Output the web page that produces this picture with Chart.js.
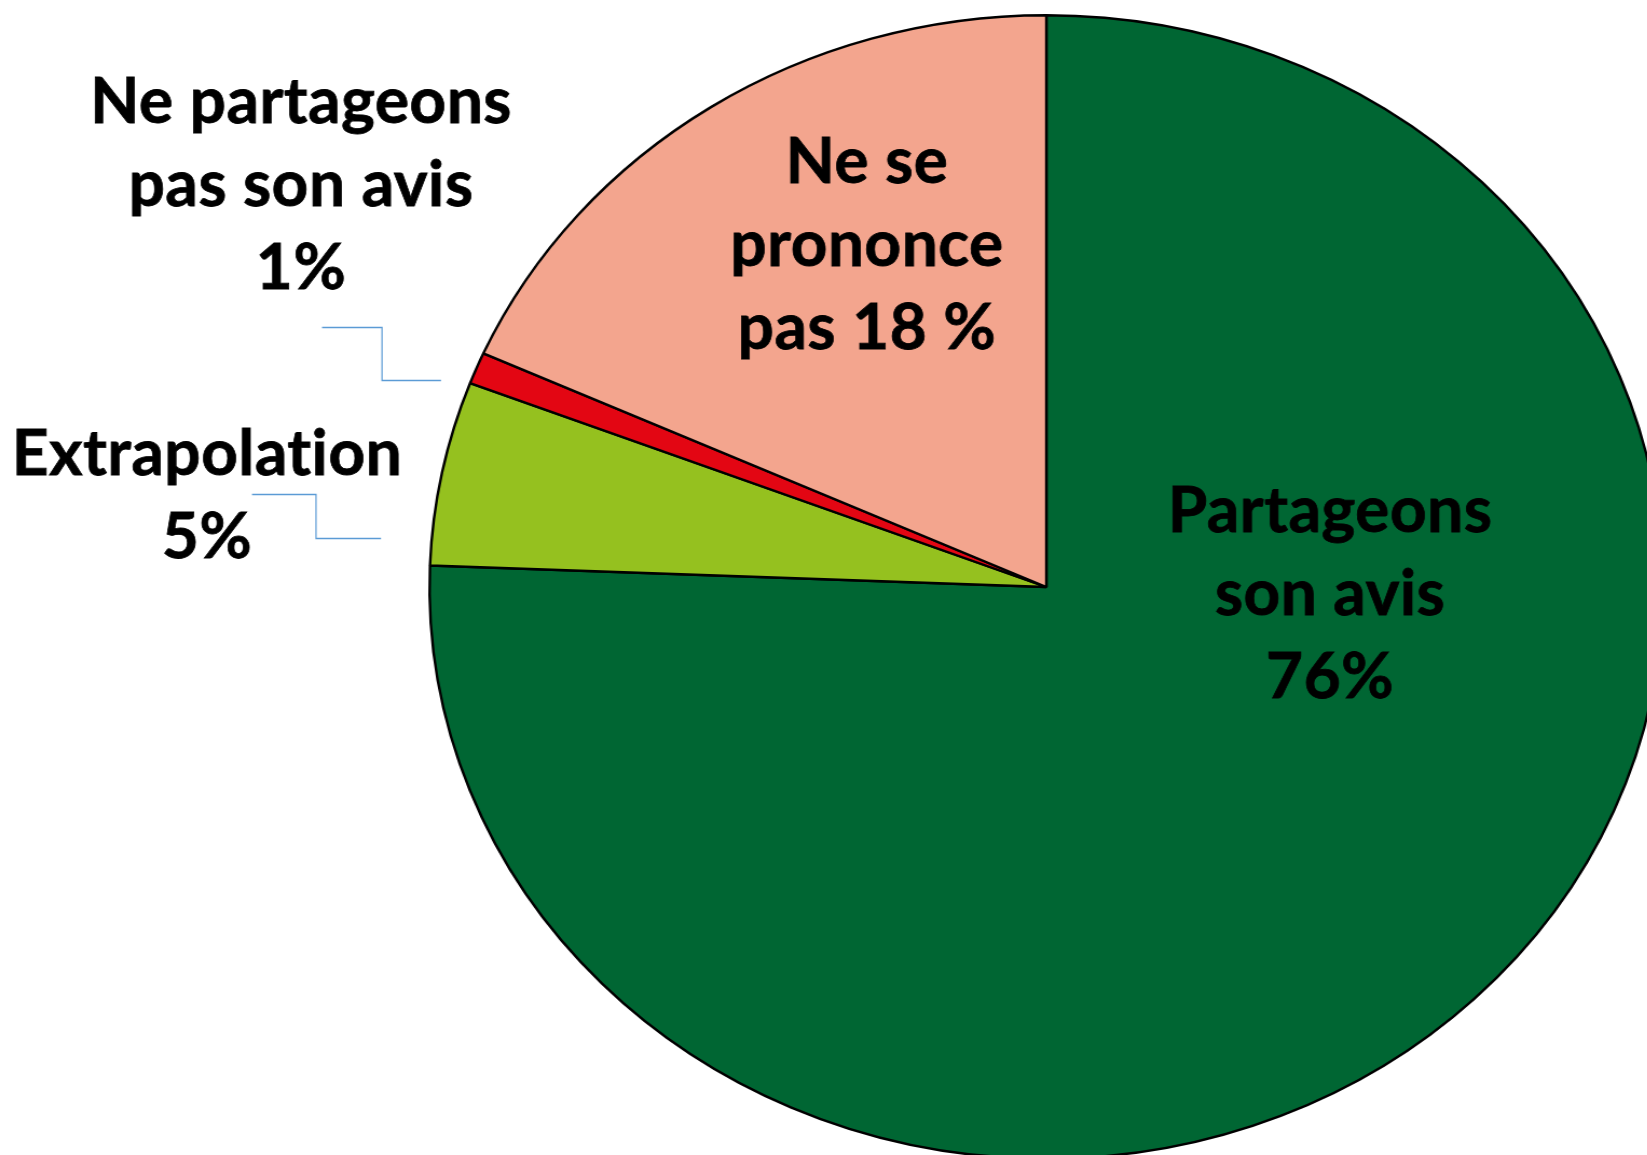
<!DOCTYPE html>
<html lang="fr">
<head>
<meta charset="UTF-8">
<title>Avis</title>
<script src="https://cdn.jsdelivr.net/npm/chart.js@4"></script>
<style>
  * { box-sizing: border-box; margin: 0; padding: 0; }
  body { background: #fff; width: 1647px; height: 1155px; overflow: hidden; }
  .wrap { position: relative; width: 1647px; height: 1155px; overflow: hidden; }
  /* Excel stretched the pie into an ellipse, so the canvas is stretched the same way */
  .chart-box { position: absolute; left: 0; top: 0; width: 1560px; height: 1180px;
    transform-origin: 0 0; transform: scaleX(1.0787); }
</style>
</head>
<body>
<div class="wrap">
  <div class="chart-box"><canvas id="pie" width="1560" height="1180"></canvas></div>
</div>
<script>
// slice order: clockwise from 12 o'clock
const categories = ['Partageons son avis', 'Extrapolation', 'Ne partageons pas son avis', 'Ne se prononce pas'];
const shares = [75.6, 5.2, 0.9, 18.3];
const sliceLabels = [
  ['Partageons', 'son avis', '76%'],
  ['Extrapolation', '5%'],
  ['Ne partageons', 'pas son avis', '1%'],
  ['Ne se', 'prononce', 'pas 18 %']
];

const SX = 1.0787;
const COLORS = ['#006633', '#95C11F', '#E30613', '#F3A58E'];
const FONT = 'bold 64px Lato, "Open Sans", sans-serif';
const LINE_H = 83;

// label centre x / first baseline y, in page pixels
const LABEL_POS = [
  { x: 1330, y: 532 },
  { x: 207, y: 475 },
  { x: 301, y: 123 },
  { x: 867, y: 183 }
];
// elbow leader lines for the two outside labels, page pixels
const LEADERS = [
  null,
  [[252, 494], [316, 494], [316, 538], [381, 538]],
  [[322, 327], [382, 327], [382, 380], [441, 380]],
  null
];

const labelPlugin = {
  id: 'sliceLabels',
  afterDraw(chart) {
    const ctx = chart.ctx;
    ctx.save();
    ctx.scale(1 / SX, 1);
    ctx.strokeStyle = '#5B9BD5';
    ctx.lineWidth = 1.3;
    LEADERS.forEach(pts => {
      if (!pts) return;
      ctx.beginPath();
      pts.forEach((p, i) => i ? ctx.lineTo(p[0], p[1] + 0.5) : ctx.moveTo(p[0], p[1] + 0.5));
      ctx.stroke();
    });
    ctx.fillStyle = '#000';
    ctx.strokeStyle = '#000';
    ctx.lineWidth = 0.8;
    ctx.font = FONT;
    if ('letterSpacing' in ctx) ctx.letterSpacing = '0.5px'; // also drops the "ti" ligature
    ctx.textAlign = 'center';
    ctx.textBaseline = 'alphabetic';
    sliceLabels.forEach((lines, i) => {
      const pos = LABEL_POS[i];
      lines.forEach((t, j) => {
        ctx.fillText(t, pos.x, pos.y + j * LINE_H);
        ctx.strokeText(t, pos.x, pos.y + j * LINE_H);
      });
    });
    ctx.restore();
  }
};

new Chart(document.getElementById('pie'), {
  type: 'pie',
  data: {
    labels: categories,
    datasets: [{
      data: shares,
      backgroundColor: COLORS,
      borderColor: '#000',
      borderWidth: 2.4,
      hoverOffset: 0,
      offset: 0
    }]
  },
  options: {
    responsive: false,
    animation: false,
    events: [],
    layout: { padding: { top: 14, bottom: 20, left: 397, right: 17 } },
    plugins: {
      legend: { display: false },
      tooltip: { enabled: false }
    }
  },
  plugins: [labelPlugin]
});
</script>
</body>
</html>
